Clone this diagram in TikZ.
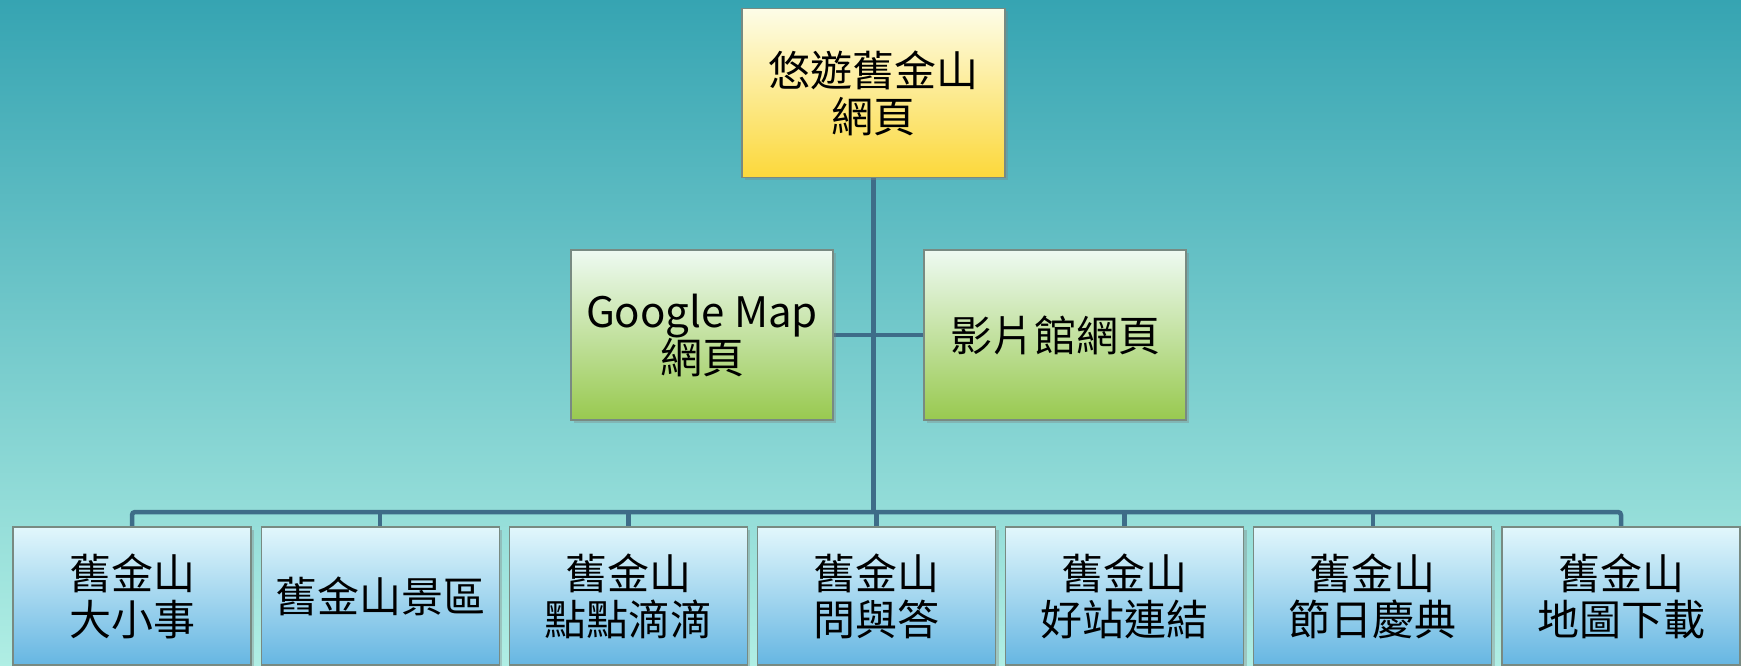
\documentclass[tikz,border=0pt]{standalone}
\usepackage{fontspec}
\setmainfont{Noto Sans CJK TC}
\usetikzlibrary{shadows}

\definecolor{bgtop}{RGB}{54,164,178}
\definecolor{bgmid}{RGB}{92,206,212}
\definecolor{bgbot}{RGB}{176,238,228}
\definecolor{linkcol}{RGB}{62,108,136}
\definecolor{edgecol}{RGB}{120,138,130}

\tikzset{
  box/.style={rectangle,draw=edgecol,line width=1.2pt,inner sep=0pt,
    align=center,font=\fontsize{42}{46}\selectfont,
    drop shadow={shadow xshift=3pt,shadow yshift=-3pt,opacity=0.35}},
  topbox/.style={box,minimum width=263pt,minimum height=169pt,
    top color={rgb,255:red,253;green,253;blue,232},
    middle color={rgb,255:red,246;green,236;blue,160},
    bottom color={rgb,255:red,252;green,216;blue,58}},
  midbox/.style={box,minimum width=262pt,minimum height=170pt,
    top color={rgb,255:red,238;green,250;blue,242},
    middle color={rgb,255:red,212;green,240;blue,160},
    bottom color={rgb,255:red,152;green,201;blue,79}},
  leafbox/.style={box,minimum width=238pt,minimum height=138pt,
    top color={rgb,255:red,226;green,247;blue,252},
    middle color={rgb,255:red,180;green,224;blue,236},
    bottom color={rgb,255:red,102;green,182;blue,226}},
  link/.style={draw=linkcol,line width=4.5pt}
}

\begin{document}
\begin{tikzpicture}[x=1pt,y=-1pt]

% background
\useasboundingbox (0,0) rectangle (1741,666);
\shade[top color=bgtop,middle color=bgmid,bottom color=bgbot]
  (0,0) rectangle (1741,666);

% bus line above the bottom row
\coordinate (bus) at (873.5,512);

% connectors first, boxes on top
\draw[link] (873.5,93) -- (bus);
\draw[link] (702,335) -- (1055,335);
\draw[link,rounded corners=3pt] (132,596) -- (132,512) -- (1621,512) -- (1621,596);
\foreach \i in {2,...,6}{
  \draw[link] ({132+248.17*(\i-1)},596) -- ({132+248.17*(\i-1)},512);
}

% top box
\node[topbox] (top) at (873.5,93) {悠遊舊金山\\網頁};

% second row
\node[midbox] (gmap) at (702,335) {Google Map\\網頁};
\node[midbox] (video) at (1055,335) {影片館網頁};

% bottom row
\foreach \i/\txt in {1/舊金山\\大小事, 2/舊金山景區, 3/舊金山\\點點滴滴,
    4/舊金山\\問與答, 5/舊金山\\好站連結, 6/舊金山\\節日慶典, 7/舊金山\\地圖下載}{
  \node[leafbox] (b\i) at ({132+248.17*(\i-1)},596) {\txt};
}

\end{tikzpicture}
\end{document}
